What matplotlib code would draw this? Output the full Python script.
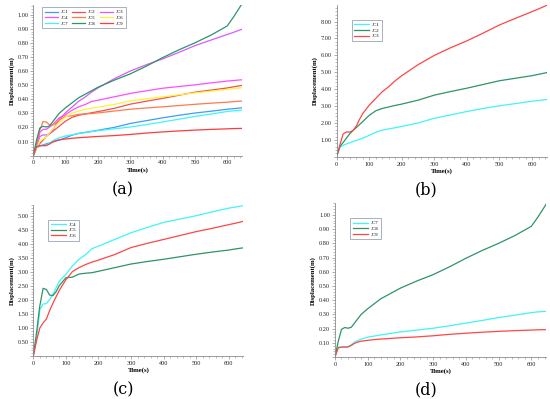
import matplotlib
matplotlib.use("Agg")
import matplotlib.pyplot as plt
from matplotlib.ticker import MultipleLocator, FuncFormatter

# -------------------------------------------------------------------------
# DATA
# -------------------------------------------------------------------------
time_s = [0, 10, 20, 30, 40, 50, 60, 70, 80, 100, 120, 140, 160, 180, 200,
          250, 300, 350, 400, 450, 500, 550, 600, 620, 645]

# JC1..JC6 as drawn in panels (b) and (c); panel (a) shows them at 1/10 scale
jc1 = [0, 0.55, 0.68, 0.76, 0.83, 0.90, 0.96, 1.03, 1.10, 1.27, 1.45, 1.58, 1.65, 1.72, 1.80,
       2.00, 2.28, 2.48, 2.68, 2.86, 3.02, 3.15, 3.29, 3.33, 3.39]
jc2 = [0, 0.60, 0.85, 1.10, 1.35, 1.55, 1.72, 1.90, 2.08, 2.45, 2.72, 2.86, 2.95, 3.04, 3.12,
       3.35, 3.65, 3.86, 4.06, 4.28, 4.50, 4.65, 4.80, 4.88, 4.98]
jc3 = [0, 0.70, 1.35, 1.47, 1.46, 1.55, 1.80, 2.20, 2.55, 3.05, 3.45, 3.85, 4.15, 4.50, 4.80,
       5.45, 6.00, 6.45, 6.86, 7.32, 7.80, 8.20, 8.59, 8.75, 8.96]
jc4 = [0, 0.62, 1.65, 1.86, 1.87, 2.02, 2.20, 2.44, 2.68, 2.92, 3.22, 3.46, 3.62, 3.84, 3.93,
       4.17, 4.41, 4.60, 4.78, 4.90, 5.02, 5.16, 5.29, 5.33, 5.38]
jc5 = [0, 0.85, 1.80, 2.42, 2.38, 2.18, 2.16, 2.30, 2.52, 2.80, 2.82, 2.93, 2.96, 2.98, 3.03,
       3.16, 3.29, 3.38, 3.46, 3.55, 3.64, 3.72, 3.79, 3.83, 3.87]
jc6 = [0, 0.55, 1.00, 1.18, 1.32, 1.62, 1.88, 2.12, 2.35, 2.73, 3.02, 3.16, 3.27, 3.36, 3.43,
       3.63, 3.88, 4.03, 4.17, 4.31, 4.45, 4.57, 4.70, 4.75, 4.82]
jc7 = [0, 0.070, 0.072, 0.072, 0.073, 0.088, 0.105, 0.117, 0.126, 0.140, 0.148, 0.156, 0.163,
       0.170, 0.177, 0.190, 0.203, 0.220, 0.239, 0.258, 0.278, 0.295, 0.313, 0.318, 0.322]
jc8 = [0, 0.110, 0.195, 0.208, 0.203, 0.210, 0.240, 0.270, 0.300, 0.340, 0.375, 0.410, 0.435,
       0.460, 0.485, 0.535, 0.580, 0.635, 0.695, 0.750, 0.800, 0.855, 0.920, 0.985, 1.075]
jc9 = [0, 0.065, 0.070, 0.070, 0.071, 0.082, 0.097, 0.106, 0.112, 0.118, 0.123, 0.127, 0.130,
       0.133, 0.136, 0.142, 0.150, 0.160, 0.168, 0.175, 0.181, 0.186, 0.190, 0.192, 0.193]

SCALE_A = 0.1  # panel (a) shows JC1-JC6 at a tenth of (b)/(c)

# -------------------------------------------------------------------------
# STYLE
# -------------------------------------------------------------------------
SERIF = "Liberation Serif"
CYAN, GREEN, RED = "#3ff5f5", "#2e9466", "#ff4545"
A_COLORS = ["#3d9bff", "#f0524a", "#d65cff", "#ff4dff", "#ff7a4d",
            "#fff23a", "#3ff5f5", "#2e9466", "#ff3b3b"]
AXIS_GREY = "#8c8c8c"


def style_axis(ax, ymax, ystep):
    ax.set_xlim(0, 645)
    ax.set_ylim(0, ymax)
    for side in ("top", "right"):
        ax.spines[side].set_visible(False)
    for side in ("left", "bottom"):
        ax.spines[side].set_color(AXIS_GREY)
        ax.spines[side].set_linewidth(0.6)
    ax.xaxis.set_major_locator(MultipleLocator(100))
    ax.xaxis.set_minor_locator(MultipleLocator(20))
    ax.yaxis.set_major_locator(MultipleLocator(ystep))
    ax.yaxis.set_minor_locator(MultipleLocator(ystep / 5))
    ax.yaxis.set_major_formatter(FuncFormatter(lambda v, p: "" if abs(v) < 1e-9 else f"{v:.2f}"))
    ax.tick_params(which="major", length=2, width=0.5, color=AXIS_GREY,
                   labelsize=4.5, pad=1.5, labelcolor="#222222")
    ax.tick_params(which="minor", length=1.2, width=0.4, color=AXIS_GREY)
    for lab in ax.get_xticklabels() + ax.get_yticklabels():
        lab.set_fontfamily(SERIF)
    ax.set_xlabel("Time(s)", fontsize=4.8, fontweight="bold", family=SERIF, labelpad=1)
    ax.set_ylabel("Displacement(m)", fontsize=4.8, fontweight="bold", family=SERIF, labelpad=2)


def add_legend(ax, loc_box, handles=None, labels=None, ncol=1, handlelength=3.0):
    kw = dict(loc="upper left", bbox_to_anchor=loc_box, ncol=ncol,
              frameon=True, fancybox=False, handlelength=handlelength, handletextpad=0.6,
              columnspacing=0.8, labelspacing=0.25, borderpad=0.5,
              prop={"family": SERIF, "size": 3.6})
    if handles is not None:
        leg = ax.legend(handles, labels, **kw)
    else:
        leg = ax.legend(**kw)
    leg.get_frame().set_edgecolor("#7f8ea0")
    leg.get_frame().set_linewidth(0.6)
    return leg


fig = plt.figure(figsize=(5.5, 3.99), dpi=100)

# panel (a)
ax_a = fig.add_axes([0.0606, 0.610, 0.379, 0.378])
series_a = [[v * SCALE_A for v in jc1], [v * SCALE_A for v in jc2], [v * SCALE_A for v in jc3],
            [v * SCALE_A for v in jc4], [v * SCALE_A for v in jc5], [v * SCALE_A for v in jc6],
            jc7, jc8, jc9]
lines_a = []
for i, ys in enumerate(series_a):
    ln, = ax_a.plot(time_s, ys, color=A_COLORS[i], lw=0.9, label=f"JC{i + 1}")
    lines_a.append(ln)
style_axis(ax_a, 1.07, 0.1)
# legend filled column by column, so reorder to read row by row
order = [0, 3, 6, 1, 4, 7, 2, 5, 8]
add_legend(ax_a, (0.03, 1.0), [lines_a[k] for k in order],
           [f"JC{k + 1}" for k in order], ncol=3, handlelength=2.6)

# panel (b)
ax_b = fig.add_axes([0.612, 0.607, 0.382, 0.380])
ax_b.plot(time_s, jc1, color=CYAN, lw=0.9, label="JC1")
ax_b.plot(time_s, jc2, color=GREEN, lw=0.9, label="JC2")
ax_b.plot(time_s, jc3, color=RED, lw=0.9, label="JC3")
style_axis(ax_b, 8.97, 1.0)
add_legend(ax_b, (0.06, 0.92))

# panel (c)
ax_c = fig.add_axes([0.0606, 0.108, 0.382, 0.378])
ax_c.plot(time_s, jc4, color=CYAN, lw=0.9, label="JC4")
ax_c.plot(time_s, jc5, color=GREEN, lw=0.9, label="JC5")
ax_c.plot(time_s, jc6, color=RED, lw=0.9, label="JC6")
style_axis(ax_c, 5.4, 0.5)
add_legend(ax_c, (0.06, 0.92))

# panel (d)
ax_d = fig.add_axes([0.609, 0.105, 0.384, 0.385])
ax_d.plot(time_s, jc7, color=CYAN, lw=0.9, label="JC7")
ax_d.plot(time_s, jc8, color=GREEN, lw=0.9, label="JC8")
ax_d.plot(time_s, jc9, color=RED, lw=0.9, label="JC9")
style_axis(ax_d, 1.08, 0.1)
add_legend(ax_d, (0.06, 0.92))

# panel letters
for x, y, s in [(123, 190, "(a)"), (426, 190, "(b)"), (123, 390, "(c)"), (426, 390, "(d)")]:
    fig.text(x / 550, 1 - y / 399, s, ha="center", va="center", fontsize=11.5, family="DejaVu Serif")

fig.savefig("out.png", dpi=100)
